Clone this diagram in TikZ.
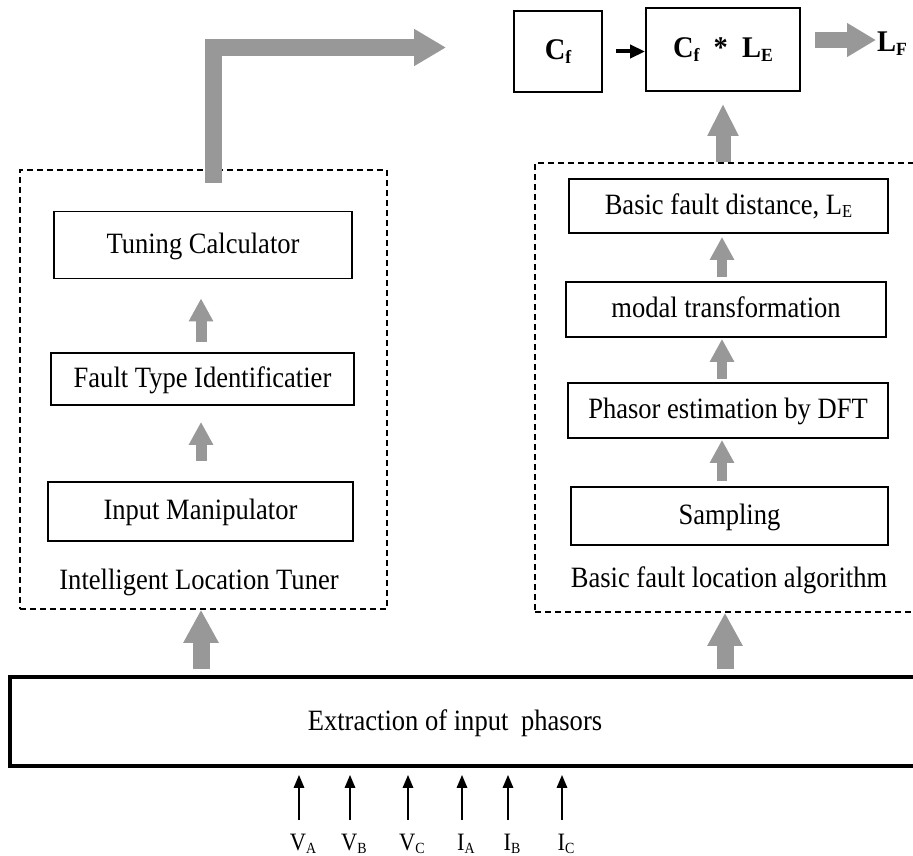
\documentclass[tikz,border=0pt]{standalone}
\usepackage{fontspec}
\setmainfont[FakeStretch=0.9]{Liberation Serif}
\newfontfamily\boldfam[FakeStretch=0.95]{Liberation Serif Bold}
\usetikzlibrary{arrows.meta}
\definecolor{ag}{RGB}{152,152,152}
\newcommand{\lo}[1]{\raisebox{-0.12em}{\scalebox{0.62}{#1}}}
\begin{document}
\begin{tikzpicture}[x=1pt,y=-1pt,
  box/.style={draw, line width=1.8pt, inner sep=0pt, text height=22pt, text depth=6pt,
              font=\fontsize{29.5}{33}\selectfont},
  bbox/.style={draw, line width=1.8pt, inner sep=0pt, font=\boldfam\fontsize{30}{34}\selectfont},
  grp/.style={draw, line width=1.5pt, dash pattern=on 6pt off 4pt, inner sep=0pt},
  smallarr/.style={draw=ag, line width=11pt, -{Triangle[width=23pt,length=23pt]}},
  bigarr/.style={draw=ag, line width=17pt, -{Triangle[width=33pt,length=33pt]}},
  inarr/.style={line width=2.6pt, -{Triangle[width=10pt,length=13pt]}},
  lbl/.style={inner sep=0pt, font=\fontsize{29.5}{33}\selectfont},
  sig/.style={inner sep=0pt, anchor=base, font=\fontsize{25}{28}\selectfont}]
\clip (0,0) rectangle (913,856);
\fill[white] (0,0) rectangle (913,856);

% left group
\node[grp, minimum width=367pt, minimum height=439pt] (lgrp) at (203.5,389.5) {};
\node[box, minimum width=298pt, minimum height=67pt] (tc) at (203,245) {Tuning Calculator};
\node[box, minimum width=303pt, minimum height=52pt] (ft) at (202.5,379) {Fault Type Identificatier\hspace{12pt}};
\node[box, minimum width=305pt, minimum height=59pt] (im) at (200.5,511.5) {Input Manipulator};
\node[lbl, anchor=base] (ilt) at (199,589) {Intelligent Location Tuner};

\coordinate (lx) at (201,0);
\draw[smallarr] ([yshift=20pt]lx |- im.north) -- ([yshift=-16pt]lx |- ft.south);
\draw[smallarr] ([yshift=10pt]lx |- ft.north) -- ([yshift=-19pt]lx |- tc.south);

% right group
\node[grp, minimum width=385pt, minimum height=449pt] (rgrp) at (727.5,387.5) {};
\node[box, minimum width=319pt, minimum height=54pt] (bfd) at (728.5,206) {Basic fault distance, L\lo{E}\hspace{8pt}};
\node[box, minimum width=320pt, minimum height=55pt] (mt) at (726,309.5) {modal transformation\hspace{16pt}};
\node[box, minimum width=320pt, minimum height=55pt] (pe) at (728,410.5) {Phasor estimation by DFT\hspace{6pt}};
\node[box, minimum width=317pt, minimum height=58pt] (sp) at (729.5,516) {Sampling\hspace{10pt}};
\node[lbl, anchor=base] (bfla) at (729,587) {Basic fault location algorithm};

\coordinate (rx) at (722,0);
\draw[smallarr, line width=10pt] ([yshift=4pt]rx |- mt.north) -- ([yshift=-3pt]rx |- bfd.south);
\draw[smallarr, line width=10pt] ([yshift=3pt]rx |- pe.north) -- ([yshift=-1pt]rx |- mt.south);
\draw[smallarr, line width=10pt] ([yshift=5pt]rx |- sp.north) -- ([yshift=-1pt]rx |- pe.south);

% top
\node[bbox, minimum width=88pt, minimum height=81pt] (cf) at (558,51.5) {C\lo{f}};
\node[bbox, minimum width=154pt, minimum height=83pt] (cfle) at (723,49.5) {C\lo{f}~~*~~L\lo{E}};
\node[inner sep=0pt, anchor=base west, font=\boldfam\fontsize{30}{34}\selectfont] (lf) at (877,52) {L\lo{F}};
\coordinate (lfin) at (876,40);

\draw[line width=4pt, -{Triangle[width=13pt,length=15pt]}, shorten <=13pt] (cf.east) -- (cf.east -| cfle.west);
\draw[draw=ag, line width=16pt, -{Triangle[width=32pt,length=29pt]}, shorten <=14pt] (cfle.east |- lfin) -- (lfin);
\draw[bigarr, line width=15pt, -{Triangle[width=29pt,length=32pt]}, shorten >=12pt] (cfle.south |- rgrp.north) -- (cfle.south);

% bent arrow
\coordinate (bs) at (213.5,183);
\coordinate (bt) at (446,47.5);
\draw[draw=ag, line width=17pt, -{Triangle[width=35pt,length=32pt]}] (bs) |- (bt);

% bottom
\node[draw, line width=3.5pt, inner sep=0pt, minimum width=910pt, minimum height=89pt] (ext) at (465,721.5) {};
\node[lbl, anchor=base] (extt) at (455,730) {Extraction of input\hspace{6pt} phasors};

\coordinate (lb) at (201,669);
\coordinate (rb) at (725,669);
\draw[bigarr] (lb) -- (lb |- lgrp.south);
\draw[bigarr] (rb) -- (rb |- rgrp.south);

\foreach \x/\n/\t/\s in {299/va/V/A, 350/vb/V/B, 408/vc/V/C, 462/ia/I/A, 508/ib/I/B, 562/ic/I/C}{
  \node[sig] (\n) at (\x+4,850) {\t\lo{\s}};
  \coordinate (\n p) at (\x,820);
  \draw[inarr, shorten >=7pt] (\n p) -- (\n p |- ext.south);
}
\end{tikzpicture}
\end{document}
